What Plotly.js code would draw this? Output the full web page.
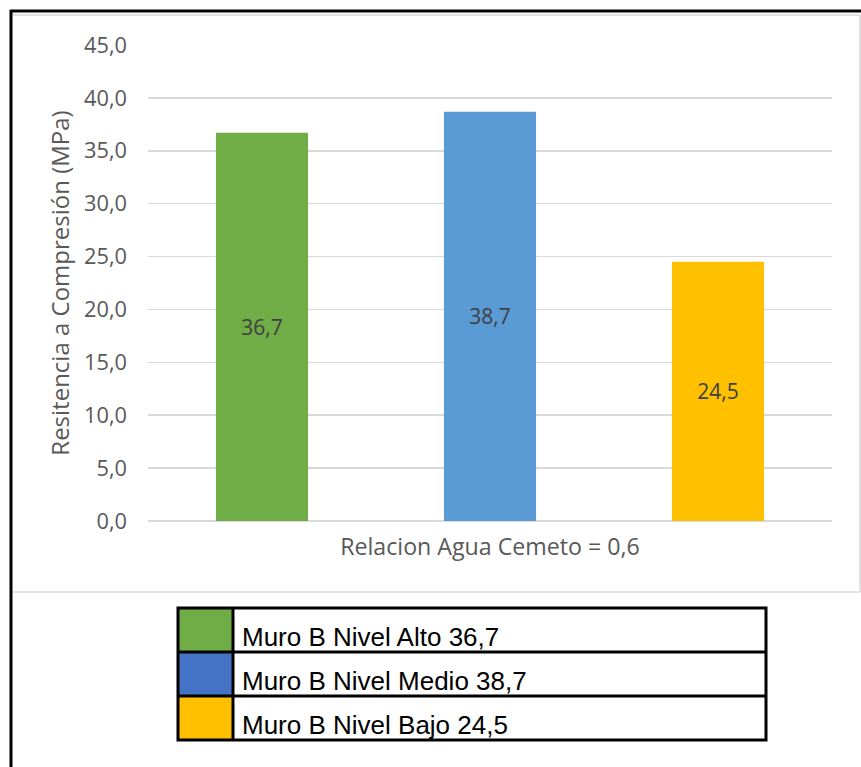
<!DOCTYPE html>
<html>
<head>
<meta charset="utf-8">
<script src="https://cdn.plot.ly/plotly-3.0.1.min.js"></script>
<style>html,body{margin:0;padding:0;background:#fff;}#chart{width:861px;height:767px;}</style>
</head>
<body>
<div id="chart"></div>
<script>
// ---- data ----
var category = ['Relacion Agua Cemeto = 0,6'];
var seriesNames = ['Muro B Nivel Alto', 'Muro B Nivel Medio', 'Muro B Nivel Bajo'];
var seriesValues = [36.7, 38.7, 24.5];
var barColors = ['#70AD47', '#5B9BD5', '#FFC000'];
var legendColors = ['#70AD47', '#4472C4', '#FFC000'];
var yTickVals = [0, 5, 10, 15, 20, 25, 30, 35, 40, 45];
var yTitle = 'Resitencia a Compresión (MPa)';

// ---- geometry helpers (pixel -> paper) ----
var W = 861, H = 767;
var M = {l: 148, r: 29, t: 45, b: 246};
var PW = W - M.l - M.r, PH = H - M.t - M.b;
function fx(x) { return (x - M.l) / PW; }
function fy(y) { return (H - M.b - y) / PH; }

var FONT = '"Open Sans", "DejaVu Sans", sans-serif';

var traces = seriesNames.map(function (n, i) {
  return {
    type: 'bar',
    name: n,
    x: category,
    y: [seriesValues[i]],
    marker: {color: barColors[i], line: {width: 0}},
    texttemplate: '%{y:.1f}',
    textposition: 'inside',
    insidetextanchor: 'middle',
    textangle: 0,
    constraintext: 'none',
    textfont: {family: FONT, size: 21, color: '#404040'},
    hoverinfo: 'skip'
  };
});

var shapes = [];
var annotations = [];

// outer frame
shapes.push({type: 'line', xref: 'paper', yref: 'paper', x0: fx(10), x1: fx(861), y0: fy(11), y1: fy(11), line: {color: '#000', width: 3}});
shapes.push({type: 'line', xref: 'paper', yref: 'paper', x0: fx(11), x1: fx(11), y0: fy(10), y1: fy(767), line: {color: '#000', width: 3}});
shapes.push({type: 'line', xref: 'paper', yref: 'paper', x0: fx(13), x1: fx(860), y0: fy(15), y1: fy(15), line: {color: '#d9d9d9', width: 1.5}});
shapes.push({type: 'line', xref: 'paper', yref: 'paper', x0: fx(860), x1: fx(860), y0: fy(15), y1: fy(592), line: {color: '#d9d9d9', width: 1.5}});
shapes.push({type: 'line', xref: 'paper', yref: 'paper', x0: fx(13), x1: fx(860), y0: fy(592), y1: fy(592), line: {color: '#d9d9d9', width: 1.5}});

// legend table
var tL = 178, tR = 766, tT = 608, rowH = 44, swR = 233;
seriesNames.forEach(function (n, i) {
  var r0 = tT + i * rowH, r1 = r0 + rowH;
  shapes.push({type: 'rect', xref: 'paper', yref: 'paper', x0: fx(tL), x1: fx(swR), y0: fy(r0), y1: fy(r1), fillcolor: legendColors[i], line: {width: 0}});
  annotations.push({
    xref: 'paper', yref: 'paper', x: fx(240), y: fy(r0 + 29), xanchor: 'left', yanchor: 'middle',
    text: n + ' ' + seriesValues[i].toFixed(1).replace('.', ','),
    showarrow: false,
    font: {family: '"Liberation Sans", Arial, sans-serif', size: 26, color: '#000'}
  });
  if (i > 0) {
    shapes.push({type: 'line', xref: 'paper', yref: 'paper', x0: fx(tL), x1: fx(tR), y0: fy(r0), y1: fy(r0), line: {color: '#000', width: 3}});
  }
});
shapes.push({type: 'line', xref: 'paper', yref: 'paper', x0: fx(swR), x1: fx(swR), y0: fy(tT), y1: fy(tT + 3 * rowH), line: {color: '#000', width: 3}});
shapes.push({type: 'rect', xref: 'paper', yref: 'paper', x0: fx(tL), x1: fx(tR), y0: fy(tT), y1: fy(tT + 3 * rowH), line: {color: '#000', width: 3}, fillcolor: 'rgba(0,0,0,0)'});

var layout = {
  width: W, height: H, autosize: false,
  margin: M,
  paper_bgcolor: '#fff', plot_bgcolor: '#fff',
  separators: ',.',
  showlegend: false,
  barmode: 'group',
  bargap: 0,
  bargroupgap: 0.596,
  font: {family: FONT, color: '#595959'},
  xaxis: {
    type: 'category',
    showgrid: false, showline: false, zeroline: false,
    ticks: '', ticklabelstandoff: 10,
    tickfont: {family: FONT, size: 23.2, color: '#595959'},
    fixedrange: true
  },
  yaxis: {
    range: [0, 45],
    tickvals: yTickVals,
    tickformat: '.1f',
    ticks: '', ticklabelstandoff: 20,
    tickfont: {family: FONT, size: 21.8, color: '#595959'},
    showgrid: true, gridcolor: '#d9d9d9', gridwidth: 1.5,
    zeroline: true, zerolinecolor: '#d9d9d9', zerolinewidth: 1.5,
    showline: false,
    title: {text: yTitle, font: {family: FONT, size: 24, color: '#595959'}, standoff: 7},
    fixedrange: true
  },
  shapes: shapes,
  annotations: annotations
};

Plotly.newPlot('chart', traces, layout, {displayModeBar: false, staticPlot: true});
</script>
</body>
</html>
